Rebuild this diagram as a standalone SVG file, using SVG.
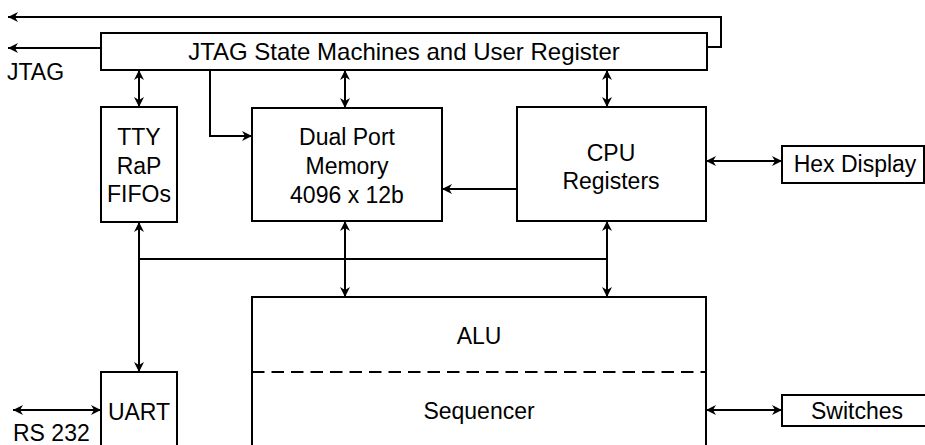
<svg xmlns="http://www.w3.org/2000/svg" width="925" height="445" viewBox="0 0 925 445">
  <defs>
    <marker id="arrow" viewBox="0 0 10 10" refX="10" refY="5" markerWidth="10" markerHeight="10" markerUnits="userSpaceOnUse" orient="auto-start-reverse">
      <path d="M0,0 L10,5 L0,10 L3,5 Z" fill="#000"/>
    </marker>
  </defs>
  <style>
    .box { fill: #fff; stroke: #000; stroke-width: 2; }
    .wire { fill: none; stroke: #000; stroke-width: 2; }
    .one { marker-end: url(#arrow); }
    .two { marker-start: url(#arrow); marker-end: url(#arrow); }
    text { font-family: "Liberation Sans", Arial, sans-serif; font-size: 23px; fill: #000; }
    .c { text-anchor: middle; }
  </style>

  <!-- blocks -->
  <g id="jtag">
    <rect class="box" x="101" y="33" width="606" height="37"/>
    <text class="c" x="404" y="60" style="font-size:24px">JTAG State Machines and User Register</text>
  </g>
  <g id="tty">
    <rect class="box" x="101" y="107" width="76" height="115"/>
    <text class="c" x="139" y="145">TTY</text>
    <text class="c" x="139" y="174">RaP</text>
    <text class="c" x="139" y="202">FIFOs</text>
  </g>
  <g id="memory">
    <rect class="box" x="252" y="108" width="190" height="113"/>
    <text class="c" x="347" y="145">Dual Port</text>
    <text class="c" x="347" y="174">Memory</text>
    <text class="c" x="347" y="203">4096 x 12b</text>
  </g>
  <g id="cpu">
    <rect class="box" x="517" y="107" width="189" height="114"/>
    <text class="c" x="611" y="161">CPU</text>
    <text class="c" x="611" y="189">Registers</text>
  </g>
  <g id="hex">
    <rect class="box" x="782" y="146" width="142" height="37"/>
    <text class="c" x="855" y="172">Hex Display</text>
  </g>
  <g id="alu">
    <rect class="box" x="252" y="297" width="454" height="160"/>
    <line x1="252" y1="372" x2="706" y2="372" stroke="#000" stroke-width="2" stroke-dasharray="12.5 7"/>
    <text class="c" x="479" y="344">ALU</text>
    <text class="c" x="479" y="419">Sequencer</text>
  </g>
  <g id="uart">
    <rect class="box" x="101" y="372" width="76" height="85"/>
    <text class="c" x="139" y="420">UART</text>
  </g>
  <g id="switches">
    <rect class="box" x="782" y="395" width="146" height="31"/>
    <text class="c" x="857" y="419">Switches</text>
  </g>
  <g id="labels">
    <text x="7" y="80">JTAG</text>
    <text x="13" y="441">RS 232</text>
  </g>

  <!-- connectors -->
  <g id="connectors">
    <path class="wire one" d="M707,47 H721 V17 H8"/>
    <path class="wire one" d="M101,48 H8"/>
    <path class="wire two" d="M139,70 V107"/>
    <path class="wire two" d="M345,70 V108"/>
    <path class="wire two" d="M607,70 V107"/>
    <path class="wire one" d="M210,70 V136 H252"/>
    <path class="wire one" d="M517,189 H442"/>
    <path class="wire two" d="M706,161 H782"/>
    <path class="wire" d="M139,259 H607"/>
    <path class="wire two" d="M139,222 V372"/>
    <path class="wire two" d="M345,221 V297"/>
    <path class="wire two" d="M607,221 V297"/>
    <path class="wire two" d="M13,410 H101"/>
    <path class="wire two" d="M706,410 H782"/>
  </g>
</svg>
